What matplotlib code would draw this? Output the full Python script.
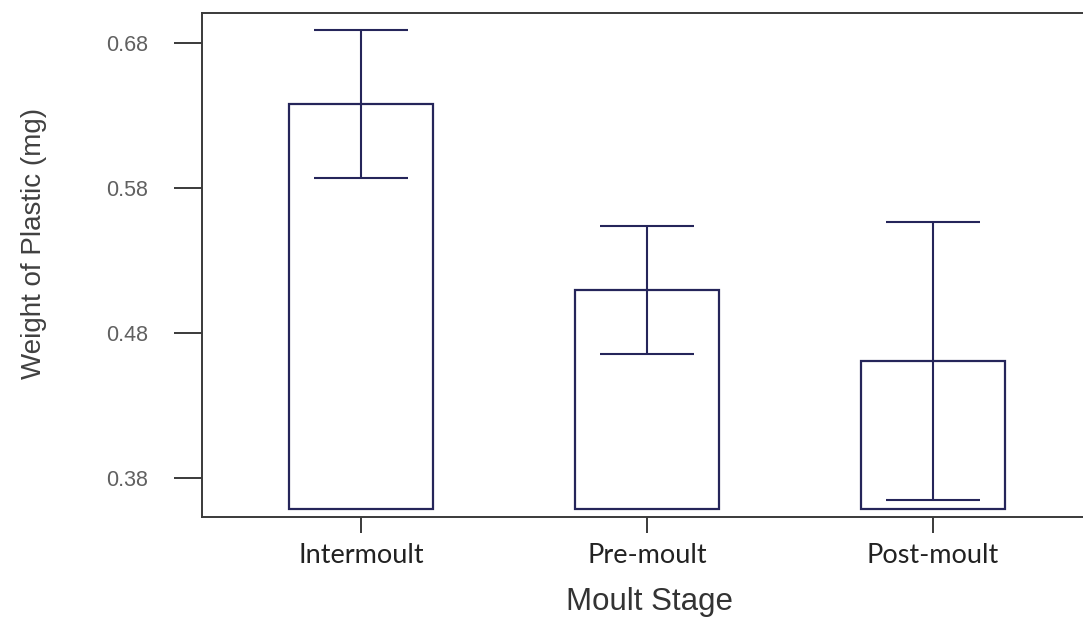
import numpy as np
import matplotlib
matplotlib.use('Agg')
import matplotlib.pyplot as plt

# data
stages = ['Intermoult', 'Pre-moult', 'Post-moult']
mean_weight = [0.638, 0.510, 0.461]
err_weight = [0.051, 0.044, 0.096]
base = 0.3586  # bars start here, not at zero
yticks = [0.38, 0.48, 0.58, 0.68]

edge = '#25255a'
spine = '#3a3a3a'

fig = plt.figure(figsize=(10.83, 6.17), dpi=100)
ax = fig.add_axes([0.1865, 0.162, 0.8135, 0.8164])

x = np.arange(len(stages))
heights = np.array(mean_weight) - base
ax.bar(x, heights, bottom=base, width=0.503, facecolor='white',
       edgecolor=edge, linewidth=1.6, zorder=2)
ax.errorbar(x, mean_weight, yerr=err_weight, fmt='none', ecolor=edge,
            elinewidth=1.5, capsize=33.8, capthick=1.5, zorder=3)

ax.set_xlim(-0.556, 2.524)
ax.set_ylim(0.3533, 0.7007)
ax.set_xticks(x)
ax.set_xticklabels(stages, fontfamily='Lato', fontsize=19.5, color='#222222')
ax.set_yticks(yticks)
ax.set_yticklabels(['%.2f' % t for t in yticks], fontfamily='Liberation Sans',
                   fontsize=15.5, color='#606060')

ax.tick_params(axis='y', length=20, width=1.4, color=spine, pad=19)
ax.tick_params(axis='x', length=11.5, width=1.4, color=spine, pad=7)

for s in ['left', 'top', 'bottom']:
    ax.spines[s].set_color(spine)
    ax.spines[s].set_linewidth(1.4)
ax.spines['right'].set_visible(False)

ax.set_xlabel('Moult Stage', fontfamily='Liberation Sans', fontsize=22.5, color='#333333')
ax.set_ylabel('Weight of Plastic (mg)', fontfamily='Liberation Sans', fontsize=20,
              color='#404040')
ax.xaxis.set_label_coords(0.5085, -0.138)
ax.yaxis.set_label_coords(-0.176, 0.544)

fig.savefig('out.png', dpi=100)
